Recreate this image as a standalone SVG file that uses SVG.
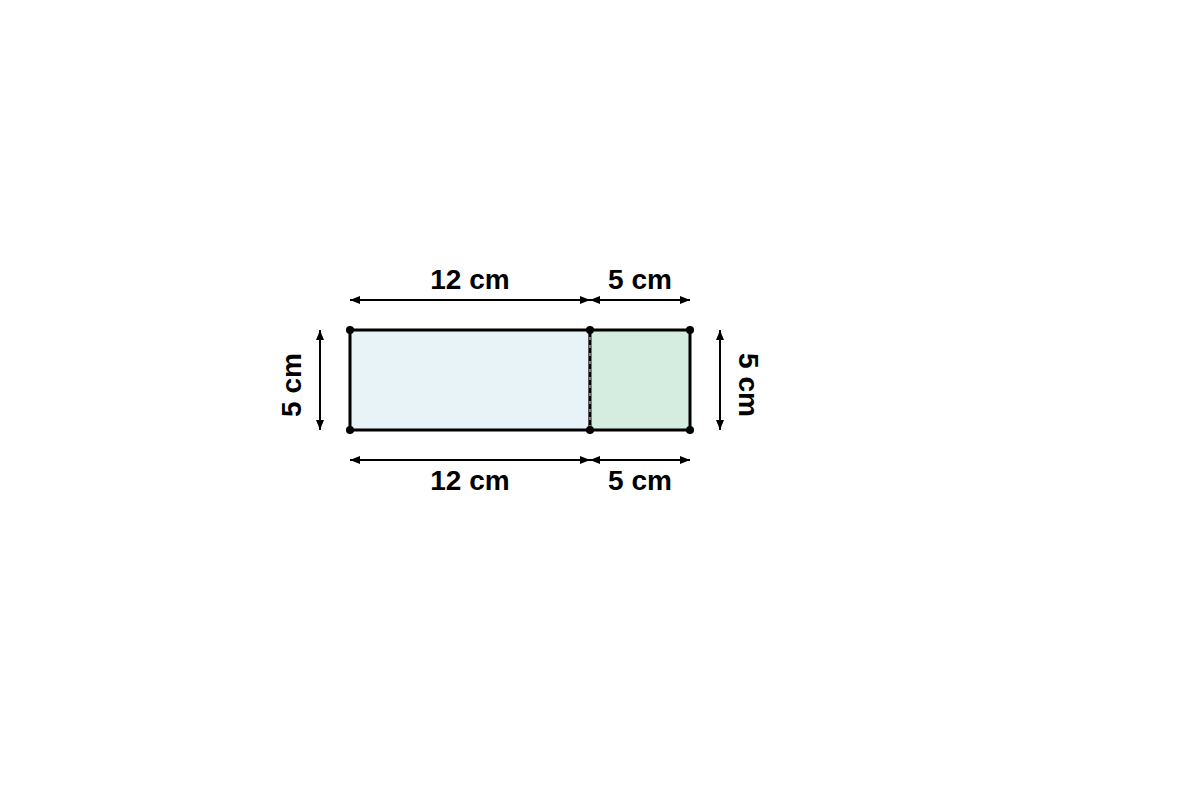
<svg xmlns="http://www.w3.org/2000/svg" width="1200" height="800" viewBox="0 0 1200 800">
<defs>
<style>
.lbl{font-family:"Liberation Sans",Arial,sans-serif;font-weight:bold;font-size:28px;fill:#000;text-anchor:middle}
.dim{stroke:#000;stroke-width:2;fill:none;marker-start:url(#ah);marker-end:url(#ah)}
.edge{stroke:#000;stroke-width:3;}
</style>
<marker id="ah" viewBox="0 0 10 10" refX="10" refY="5" markerWidth="10" markerHeight="10" markerUnits="userSpaceOnUse" orient="auto-start-reverse">
<path d="M0,1 L10,5 L0,9 Z" fill="#000"/>
</marker>
</defs>
<rect width="1200" height="800" fill="#fff"/>
<g id="rect-left">
<rect x="350" y="330" width="240" height="100" fill="#e8f3f8" class="edge"/>
</g>
<g id="rect-right">
<rect x="590" y="330" width="100" height="100" fill="#d4ede0" class="edge"/>
</g>
<g id="divider">
<line x1="590" y1="330" x2="590" y2="430" stroke="#777" stroke-width="3"/>
<line x1="590" y1="332" x2="590" y2="430" stroke="#000" stroke-width="2" stroke-dasharray="5,3"/>
</g>
<g id="vertices" fill="#000">
<circle cx="350" cy="330" r="4"/>
<circle cx="590" cy="330" r="4"/>
<circle cx="690" cy="330" r="4"/>
<circle cx="350" cy="430" r="4"/>
<circle cx="590" cy="430" r="4"/>
<circle cx="690" cy="430" r="4"/>
</g>
<g id="dimensions">
<line class="dim" x1="350" y1="300" x2="590" y2="300"/>
<line class="dim" x1="590" y1="300" x2="690" y2="300"/>
<line class="dim" x1="350" y1="460" x2="590" y2="460"/>
<line class="dim" x1="590" y1="460" x2="690" y2="460"/>
<line class="dim" x1="320" y1="330" x2="320" y2="430"/>
<line class="dim" x1="720" y1="330" x2="720" y2="430"/>
</g>
<g id="labels">
<text class="lbl" x="470" y="289">12 cm</text>
<text class="lbl" x="640" y="289">5 cm</text>
<text class="lbl" x="470" y="490">12 cm</text>
<text class="lbl" x="640" y="490">5 cm</text>
<text class="lbl" transform="translate(301,385) rotate(-90)">5 cm</text>
<text class="lbl" transform="translate(739,385) rotate(90)">5 cm</text>
</g>
</svg>
